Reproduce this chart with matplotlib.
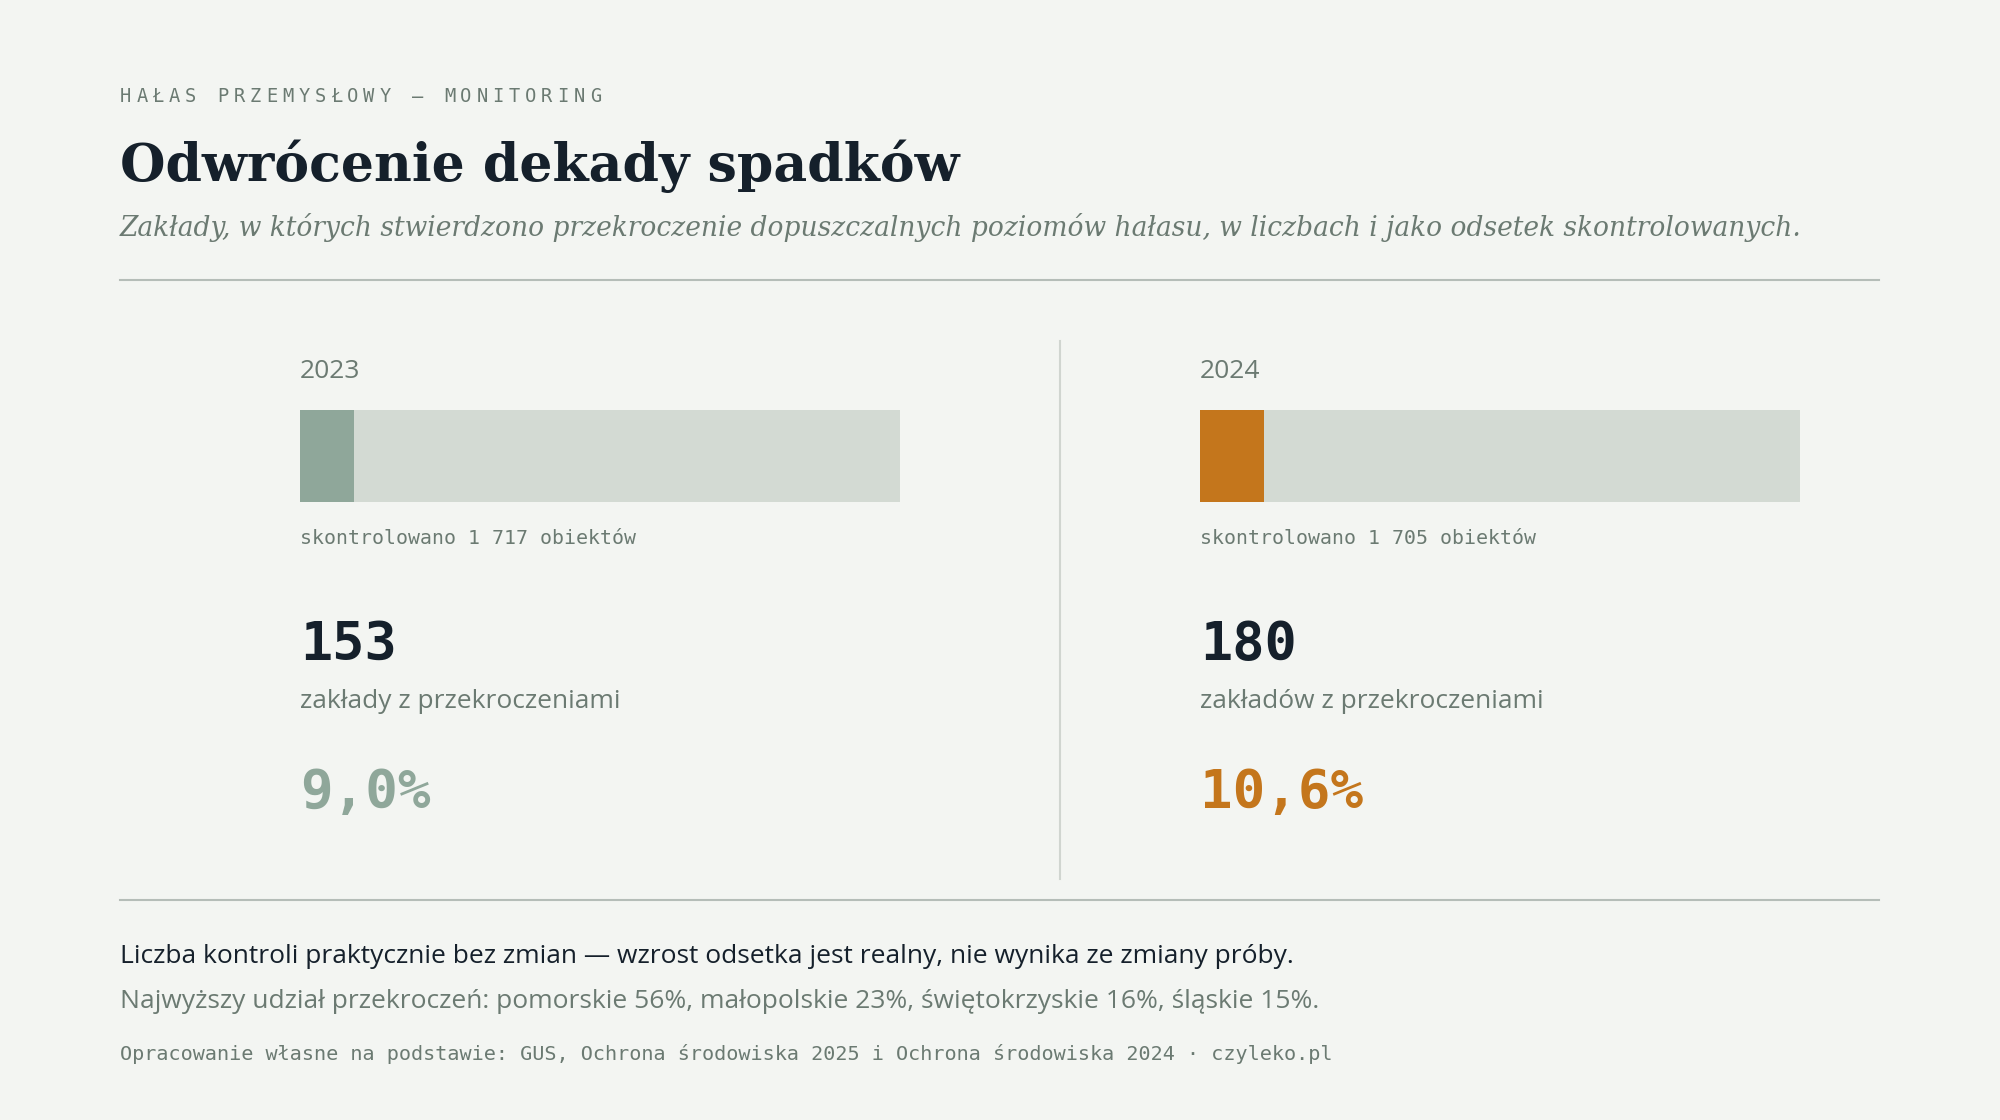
import matplotlib
matplotlib.use('Agg')
import matplotlib.pyplot as plt

# dane
years = ['2023', '2024']
inspected = ['1 717', '1 705']
exceed = [153, 180]
share = [9.0, 10.6]
share_labels = ['9,0%', '10,6%']
exceed_labels = ['zakłady z przekroczeniami', 'zakładów z przekroczeniami']
accent = ['#8fa79a', '#c4761c']

kicker = 'HAŁAS PRZEMYSŁOWY — MONITORING'
title = 'Odwrócenie dekady spadków'
subtitle = ('Zakłady, w których stwierdzono przekroczenie dopuszczalnych poziomów hałasu, '
            'w liczbach i jako odsetek skontrolowanych.')
note1 = 'Liczba kontroli praktycznie bez zmian — wzrost odsetka jest realny, nie wynika ze zmiany próby.'
note2 = 'Najwyższy udział przekroczeń: pomorskie 56%, małopolskie 23%, świętokrzyskie 16%, śląskie 15%.'
source = 'Opracowanie własne na podstawie: GUS, Ochrona środowiska 2025 i Ochrona środowiska 2024 · czyleko.pl'

BG = '#f3f5f2'
DARK = '#15202b'
MUTED = '#6b7a72'
TRACK = '#d3dad3'
RULE = '#b5bdb8'

W, H = 2000, 1120
fig = plt.figure(figsize=(20, 11.2), dpi=100, facecolor=BG)


def px(x, y):
    return x / W, 1 - y / H


def txt(x, y, s, **kw):
    fx, fy = px(x, y)
    fig.text(fx, fy, s, **kw)


SANS = ['Open Sans', 'DejaVu Sans']
MONO = ['DejaVu Sans Mono']
SERIF = ['DejaVu Serif']

# naglowek
for i, ch in enumerate(kicker):
    txt(120 + i * 16.2, 97, ch, family=MONO, fontsize=13.5, color=MUTED, va='center')
txt(120, 181, title, family=SERIF, fontweight='bold', fontsize=37.5, color=DARK, va='baseline')
txt(120, 236, subtitle, family=SERIF, style='italic', fontsize=19.1, color=MUTED, va='baseline')

# linie
fig.add_artist(plt.Line2D([120 / W, 1879 / W], [1 - 280 / H] * 2, color=RULE, lw=1.5))
fig.add_artist(plt.Line2D([120 / W, 1879 / W], [1 - 900 / H] * 2, color=RULE, lw=1.5))
fig.add_artist(plt.Line2D([1060 / W] * 2, [1 - 341 / H, 1 - 879 / H], color='#d0d5d0', lw=1.5))

# panele
lefts = [300, 1200]
for i in range(len(years)):
    x0 = lefts[i]
    txt(x0, 372, years[i], family=SANS, fontsize=19, color=MUTED, va='center')

    ax = fig.add_axes([x0 / W, 1 - 502 / H, 600 / W, 92 / H])
    ax.barh([0], [100], height=1, color=TRACK)
    ax.barh([0], [share[i]], height=1, color=accent[i])
    ax.set_xlim(0, 100)
    ax.set_ylim(-0.5, 0.5)
    ax.axis('off')

    txt(x0, 538, 'skontrolowano ' + inspected[i] + ' obiektów', family=MONO,
        fontsize=14.3, color=MUTED, va='center')
    txt(x0, 660, str(exceed[i]), family=MONO, fontweight='bold', fontsize=38.5,
        color=DARK, va='baseline')
    txt(x0, 708, exceed_labels[i], family=SANS, fontsize=19, color=MUTED, va='baseline')
    txt(x0, 808, share_labels[i], family=MONO, fontweight='bold', fontsize=39,
        color=accent[i], va='baseline')

# stopka
txt(120, 963, note1, family=SANS, fontsize=19, color=DARK, va='baseline')
txt(120, 1008, note2, family=SANS, fontsize=19, color=MUTED, va='baseline')
txt(120, 1060, source, family=MONO, fontsize=14.5, color=MUTED, va='baseline')

fig.savefig('out.png', dpi=100, facecolor=BG)
